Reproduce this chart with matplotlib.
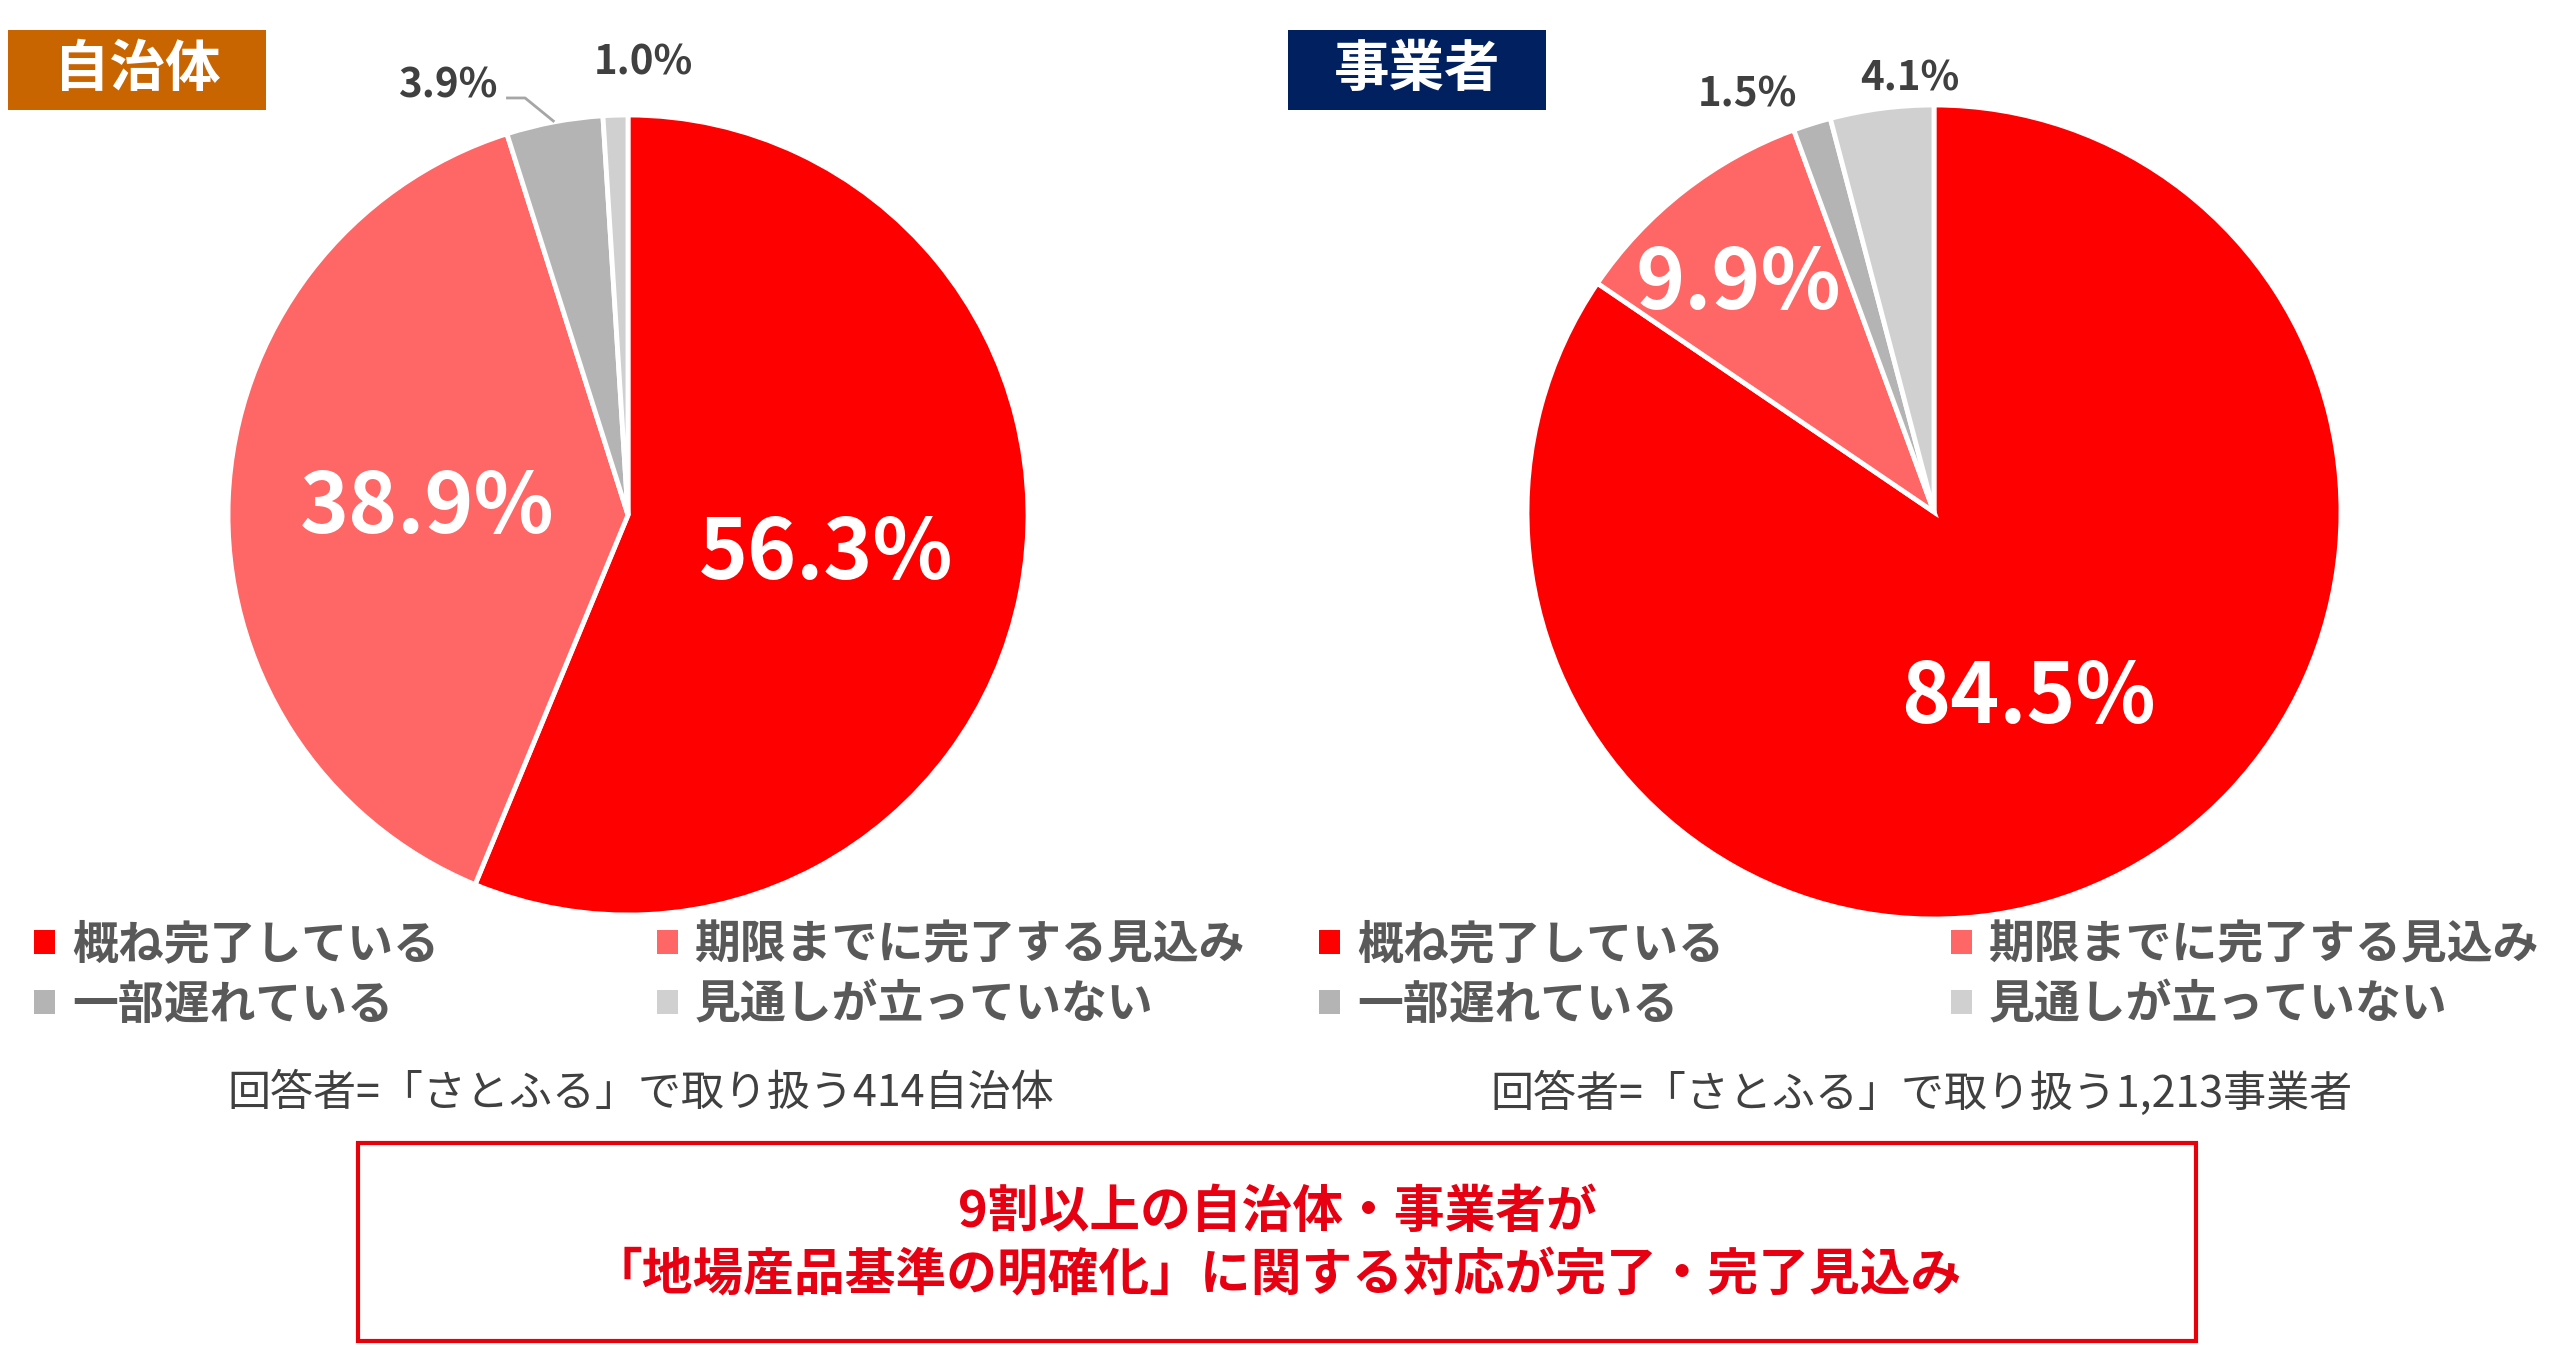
import matplotlib
matplotlib.use("Agg")
import matplotlib.pyplot as plt
from matplotlib.patches import Rectangle, Patch
from matplotlib.transforms import offset_copy
import numpy as np

plt.rcParams['font.family'] = ['Noto Sans CJK JP', 'DejaVu Sans']

# ---------------- data ----------------
categories = ['概ね完了している', '期限までに完了する見込み', '一部遅れている', '見通しが立っていない']
municipality_values = [56.3, 38.9, 3.9, 1.0]
business_values = [84.5, 9.9, 1.5, 4.1]
panel_titles = ['自治体', '事業者']
respondent_notes = ['回答者=「さとふる」で取り扱う414自治体',
                    '回答者=「さとふる」で取り扱う1,213事業者']
summary_lines = ['9割以上の自治体・事業者が',
                 '「地場産品基準の明確化」に関する対応が完了・完了見込み']

# ---------------- style ----------------
colors = ['#FF0000', '#FF6666', '#B4B4B4', '#D0D0D0']
title_colors = ['#C96500', '#002060']
W, H = 2560, 1345
BIG, SMALL = 60, 29

fig = plt.figure(figsize=(W / 100, H / 100), dpi=100)
fig.patch.set_facecolor('white')


def px_axes(x0, y0_top, w, h):
    return [x0 / W, 1 - (y0_top + h) / H, w / W, h / H]


def draw_panel(values, cx, cy, R, specs, leader=None):
    k = 1.3
    ax = fig.add_axes(px_axes(cx - R * k, cy - R * k, 2 * R * k, 2 * R * k))
    wedges, _ = ax.pie(values, colors=colors, startangle=90, counterclock=False,
                       radius=1.0, wedgeprops=dict(edgecolor='white', linewidth=3.5))
    ax.set_xlim(-k, k)
    ax.set_ylim(-k, k)
    ax.axis('off')
    for i, (w, v, (off, rf, big)) in enumerate(zip(wedges, values, specs)):
        mid = (w.theta1 + w.theta2) / 2
        ang = np.deg2rad(mid + off)
        x, y = rf * np.cos(ang), rf * np.sin(ang)
        fs = BIG if big else SMALL
        cap = 0.733 * fs * 100 / 72
        tr = offset_copy(ax.transData, fig=fig, x=0, y=-cap / 2, units='dots')
        ax.text(x, y, f'{v:.1f}%', ha='center', va='baseline', transform=tr,
                color='white' if big else '#404040',
                fontsize=fs, fontweight='bold', clip_on=False)
        if leader is not None and leader[0] == i:
            mrad = np.deg2rad(mid)
            sx, sy = x + leader[1], y + leader[2]
            kx = x + leader[3]
            ax.plot([sx, kx, np.cos(mrad)], [sy, sy, np.sin(mrad)],
                    color='#A6A6A6', lw=2, solid_capstyle='butt', clip_on=False)
    return ax, wedges


ax1, w1 = draw_panel(municipality_values, 628, 515, 400,
                     [(1.6, 0.503, True), (-1.0, 0.504, True), (12.0, 1.17, False), (-3.7, 1.138, False)],
                     leader=(2, 0.145, -0.0375, 0.1925))
ax2, w2 = draw_panel(business_values, 1934, 512, 407,
                     [(-0.1, 0.50, True), (2.0, 0.748, True), (6.5, 1.13, False), (-4.2, 1.073, False)])

# ---------------- title boxes ----------------
for (x0, title, col) in [(8, panel_titles[0], title_colors[0]), (1288, panel_titles[1], title_colors[1])]:
    fig.patches.append(Rectangle((x0 / W, 1 - 110 / H), 258 / W, 80 / H,
                                 transform=fig.transFigure, facecolor=col, edgecolor='none'))
    fig.text((x0 + 129) / W, 1 - 70 / H, title, ha='center', va='center',
             color='white', fontsize=40, fontweight='bold')

# ---------------- legends ----------------
order = [0, 2, 1, 3]
for (x0, colsp) in [(34, 4.75), (1319, 4.95)]:
    handles = [Patch(facecolor=colors[i], edgecolor='none') for i in order]
    labels = [categories[i] for i in order]
    fig.legend(handles, labels, ncol=2, loc='upper left',
               bbox_to_anchor=(x0 / W, 1 - 922 / H), frameon=False,
               prop=dict(size=33, weight='bold'), labelcolor='#595959',
               handlelength=0.46, handleheight=0.42, handletextpad=0.37,
               columnspacing=colsp, labelspacing=0.32, borderpad=0, borderaxespad=0)

# ---------------- notes ----------------
fig.text(641 / W, 1 - 1094 / H, respondent_notes[0], ha='center', va='center',
         color='#404040', fontsize=31)
fig.text(1922 / W, 1 - 1094 / H, respondent_notes[1], ha='center', va='center',
         color='#404040', fontsize=31)

# ---------------- summary box ----------------
fig.patches.append(Rectangle((358 / W, 1 - 1341 / H), 1838 / W, 198 / H,
                             transform=fig.transFigure, facecolor='white',
                             edgecolor='#E8000B', linewidth=3))
fig.text(1277 / W, 1 - 1212 / H, summary_lines[0], ha='center', va='center',
         color='#E60012', fontsize=36.5, fontweight='bold')
fig.text(1277 / W, 1 - 1276 / H, summary_lines[1], ha='center', va='center',
         color='#E60012', fontsize=36.5, fontweight='bold')

fig.savefig('out.png', dpi=100, facecolor='white')
